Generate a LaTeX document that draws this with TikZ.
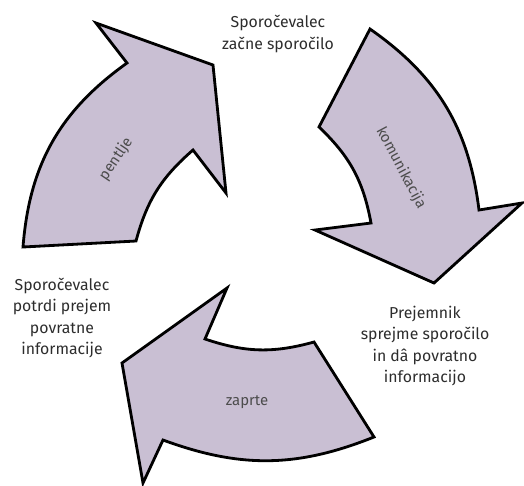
\documentclass[tikz,border=0pt]{standalone}
\usepackage{fontspec}
\setmainfont{Fira Sans}
\usetikzlibrary{positioning}
\definecolor{arrowfill}{RGB}{201,191,211}
\definecolor{labeltext}{RGB}{45,45,45}

\begin{document}
\begin{tikzpicture}[x=0.02cm,y=0.02cm,
    puscica/.style={draw=black,line width=1.6pt,fill=arrowfill},
    oznaka/.style={align=center,text=labeltext,font=\fontsize{9}{12.2}\selectfont},
    napis/.style={text=labeltext!85,font=\fontsize{8.5}{10}\selectfont}]

    \useasboundingbox (0,0) rectangle (524,-485);

    % puscica levo zgoraj
    \filldraw[puscica] (23,-247) to[bend left=25] (127,-63) -- (96,-23) -- (213,-65)
        -- (226,-193) -- (193,-150) to[bend right=17] (136,-241) -- cycle;
    % puscica desno
    \filldraw[puscica] (370,-29) to[bend left=24] (479,-210) -- (522,-203) -- (434,-283)
        -- (315,-230) -- (371,-223) to[bend right=18] (319,-127) -- cycle;
    % puscica spodaj
    \filldraw[puscica] (374,-437) to[bend left=21] (163,-440) -- (143,-483) -- (122,-363)
        -- (227,-288) -- (205,-339) to[bend right=17] (314,-342) -- cycle;

    \node[napis,rotate=56] (pentlje) at (116,-159) {pentlje};
    \node[napis,rotate=-62] (komunikacija) at (401,-168) {komunikacija};
    \node[napis] (zaprte) at (247,-402) {zaprte};

    \node[oznaka] (zacne) at (278,-34) {Sporočevalec\\začne sporočilo};
    \node[oznaka] (prejemnik) at (425,-346) {Prejemnik\\sprejme sporočilo\\in dâ povratno\\informacijo};
    \node[oznaka] (potrdi) at (62,-318) {Sporočevalec\\potrdi prejem\\povratne\\informacije};

\end{tikzpicture}
\end{document}
